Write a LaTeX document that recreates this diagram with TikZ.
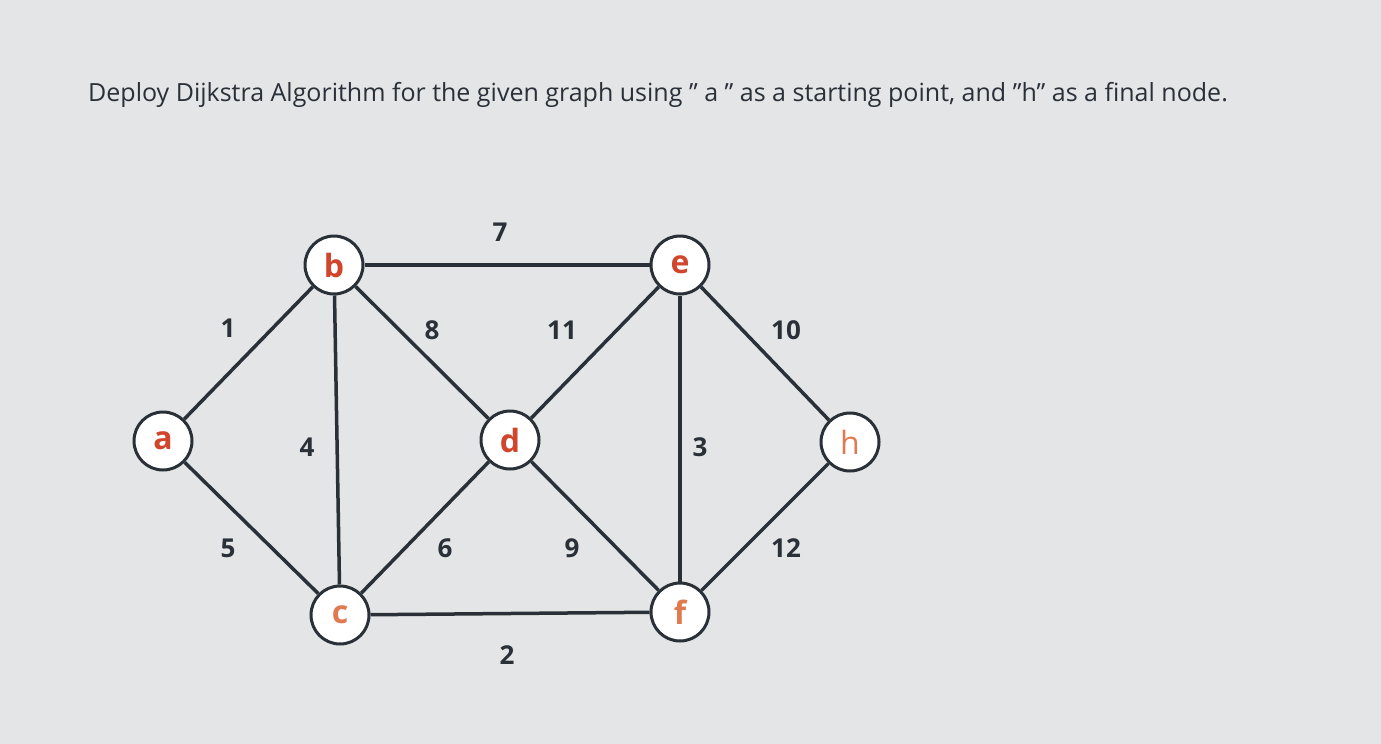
\documentclass[tikz,border=0pt]{standalone}
\usepackage{fontspec}
\setmainfont{Open Sans}
\definecolor{bg}{HTML}{E4E5E6}
\definecolor{edgec}{HTML}{2A3038}
\definecolor{redl}{HTML}{D0452C}
\definecolor{orl}{HTML}{E07A50}
\newcommand{\qq}{\char34{}}
\begin{document}
\begin{tikzpicture}[x=1pt,y=-1pt,
  vert/.style={circle,draw=edgec,line width=3pt,fill=white,minimum size=58pt,inner sep=0pt,font=\fontsize{32}{32}\selectfont\bfseries},
  edg/.style={draw=edgec,line width=3.5pt},
  wt/.style={font=\fontsize{26}{26}\selectfont\bfseries,text=edgec}]
\fill[bg] (0,0) rectangle (1381,744);
\useasboundingbox (0,0) rectangle (1381,744);
\node[anchor=west,font=\fontsize{25}{25}\selectfont,text=edgec,inner sep=0pt] (title) at (88,95) {Deploy Dijkstra Algorithm for the given graph using \qq{} a \qq{} as a starting point, and \qq{}h\qq{} as a final node.};
\node[vert,text=redl] (a) at (163,441) {a};
\node[vert,text=redl] (b) at (334,265) {b};
\node[vert,text=orl] (c) at (340,615) {c};
\node[vert,text=redl] (d) at (510,440) {d};
\node[vert,text=redl] (e) at (680,265) {e};
\node[vert,text=orl] (f) at (680,612) {f};
\node[vert,text=orl,font=\fontsize{32}{32}\selectfont] (h) at (850,442) {h};
\draw[edg] (a) -- (b); \draw[edg] (a) -- (c);
\draw[edg] (b) -- (e); \draw[edg] (b) -- (c); \draw[edg] (b) -- (d);
\draw[edg] (c) -- (d); \draw[edg] (c) -- (f);
\draw[edg] (d) -- (e); \draw[edg] (d) -- (f);
\draw[edg] (e) -- (f); \draw[edg] (e) -- (h); \draw[edg] (f) -- (h);
\node[wt] (w7) at (500,232) {7};
\node[wt] (w1) at (228,328) {1};
\node[wt] (w8) at (432,330) {8};
\node[wt] (w11) at (562,330) {11};
\node[wt] (w10) at (786,330) {10};
\node[wt] (w4) at (307,447) {4};
\node[wt] (w3) at (700,447) {3};
\node[wt] (w5) at (228,548) {5};
\node[wt] (w6) at (445,548) {6};
\node[wt] (w9) at (572,548) {9};
\node[wt] (w12) at (786,548) {12};
\node[wt] (w2) at (507,655) {2};
\end{tikzpicture}
\end{document}
